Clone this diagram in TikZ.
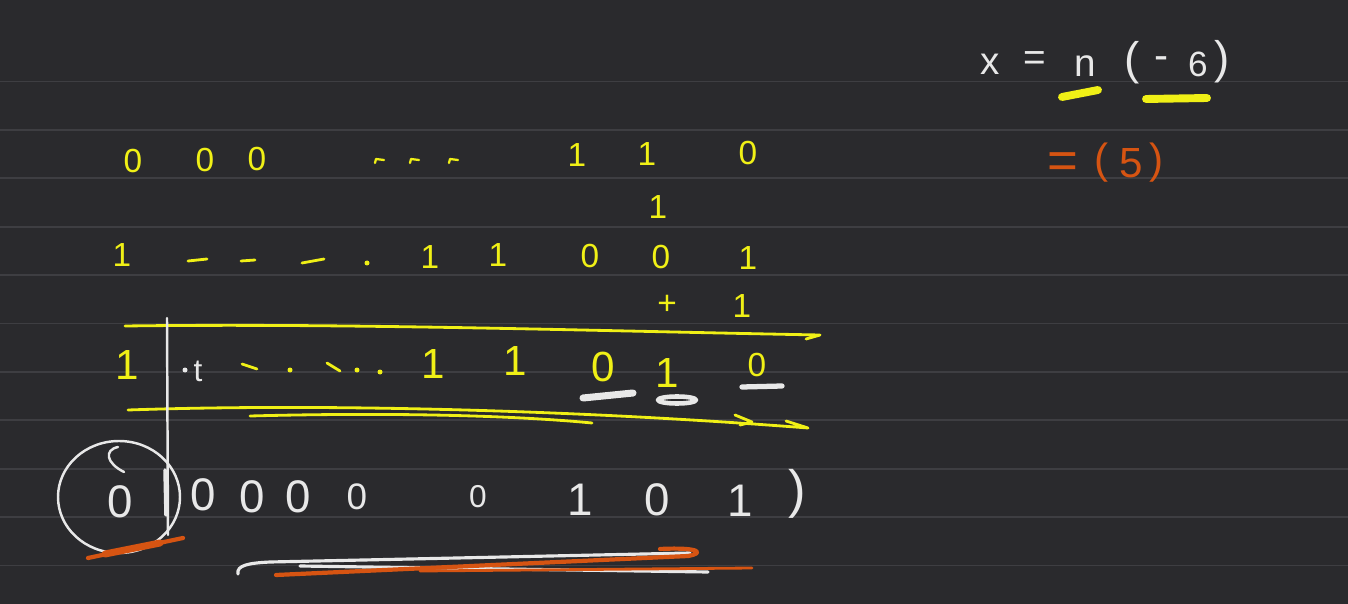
\documentclass[tikz,border=0pt]{standalone}
\usepackage{fontspec}
\setmainfont{Liberation Sans}
\definecolor{pizarra}{RGB}{42,42,45}
\definecolor{renglon}{RGB}{62,62,66}
\definecolor{amarillo}{RGB}{240,240,22}
\definecolor{tiza}{RGB}{232,232,232}
\definecolor{naranja}{RGB}{214,84,18}

\begin{document}
\begin{tikzpicture}[x=0.02cm, y=-0.02cm,
  digA/.style={text=amarillo, inner sep=0pt, font=\fontsize{19}{19}\selectfont},
  digAA/.style={text=amarillo, inner sep=0pt, font=\fontsize{24}{24}\selectfont},
  digB/.style={text=tiza, inner sep=0pt, font=\fontsize{26}{26}\selectfont},
  digN/.style={text=naranja, inner sep=0pt, font=\fontsize{24}{24}\selectfont},
  trazoA/.style={draw=amarillo, line width=1.6pt, line cap=round, line join=round},
  trazoB/.style={draw=tiza, line width=1.4pt, line cap=round, line join=round},
  trazoN/.style={draw=naranja, line width=2.4pt, line cap=round, line join=round}]

  % Pizarra y renglones
  \useasboundingbox (0,0) rectangle (1348,604);
  \fill[pizarra] (0,0) rectangle (1348,604);
  \foreach \k in {0,...,10}
    \draw[renglon, line width=1.1pt] (0,{81.5+48.4*\k}) -- (1348,{81.5+48.4*\k});

  % Fila 1: 0 0 0 ... 1 1 0
  \foreach \x/\y/\d in {133/161/0, 205/160/0, 257/159/0, 577/155/1, 647/154/1, 748/153/0}
    \node[digA] (f1-\x) at (\x,\y) {\d};
  \foreach \x in {375,410,449}
    \draw[trazoA, line width=1.3pt] (\x,163) -- (\x+1,159) -- (\x+9,160);
  \node[digA] (acarreo) at (658,207) {1};

  % Fila 2: complemento
  \foreach \x/\y/\d in {122/255/1, 430/257/1, 498/255/1, 590/256/0, 661/257/0, 748/258/1}
    \node[digA] (f2-\x) at (\x,\y) {\d};
  \draw[trazoA] (188,261) -- (207,259);
  \draw[trazoA] (241,261) -- (255,260);
  \draw[trazoA] (302,263) -- (324,259);
  \fill[amarillo] (367,263) circle (2.5);

  % Fila 3: + 1
  \node[digA] (mas) at (667,305) {+};
  \node[digA] (uno) at (742,306) {1};
  \draw[trazoA] (125,326) .. controls (350,323) and (600,331) .. (820,335) -- (806,339);

  % Fila 4: resultado
  \foreach \x/\y/\d in {127/365/1, 433/364/1, 515/361/1, 603/367/0, 667/373/1}
    \node[digAA] (f4-\x) at (\x,\y) {\d};
  \node[digA] (f4-757) at (757,365) {0};
  \fill[tiza] (185,370) circle (2.5);
  \node[text=tiza, inner sep=0pt, font=\fontsize{18}{18}\selectfont] (marca) at (198,371) {t};
  \draw[trazoA] (242,364) -- (257,369);
  \fill[amarillo] (290,370) circle (2.5);
  \draw[trazoA] (327,363) -- (340,371);
  \fill[amarillo] (357,370) circle (2.5);
  \fill[amarillo] (380,372) circle (2.5);

  % Subrayados blancos
  \draw[trazoB, line width=4pt] (583,398) -- (633,393);
  \draw[trazoB, line width=2.6pt] (677,400) ellipse [x radius=19, y radius=3.5];
  \draw[trazoB, line width=3pt] (742,387) -- (782,386);

  % Doble raya amarilla
  \draw[trazoA] (128,410) .. controls (300,404) and (550,408) .. (808,428) -- (786,421);
  \draw[trazoA] (250,416) .. controls (400,412) and (520,416) .. (592,423);
  \draw[trazoA] (735,415) -- (752,422) -- (740,425);

  % Linea vertical blanca
  \draw[trazoB] (167,318) -- (168,535);
  \draw[trazoB, line width=2pt] (165,470) -- (166,515);

  % Fila 5: 0 | 0000 0 ... 0 1 0 1 )
  \draw[trazoB] (119,497) ellipse [x radius=61, y radius=56];
  \draw[trazoB] (118,447) .. controls (104,450) and (106,463) .. (124,472);
  \node[digB] (signo) at (120,502) {0};
  \foreach \x/\y/\d in {203/495/0, 252/497/0, 298/497/0, 580/500/1, 657/500/0, 740/501/1}
    \node[digB] (f5-\x) at (\x,\y) {\d};
  \node[digB, font=\fontsize{21}{21}\selectfont] (f5-357) at (357,497) {0};
  \node[digB, font=\fontsize{18}{18}\selectfont] (f5-478) at (478,497) {0};
  \node[digB, font=\fontsize{30}{30}\selectfont] (cierre) at (797,494) {)};

  % Rayas naranjas y blancas abajo
  \draw[trazoN] (88,558) -- (183,538);
  \draw[trazoN, line width=4pt] (105,554) -- (160,543);
  \draw[trazoB, line width=1.8pt] (238,574) .. controls (236,565) and (250,563) .. (270,562) -- (690,553);
  \draw[trazoB, line width=1.8pt] (300,566) -- (708,572);
  \draw[trazoN] (276,575) -- (688,556) .. controls (705,553) and (700,547) .. (660,549);
  \draw[trazoN, line width=1.6pt] (420,571) -- (752,568);

  % Arriba a la derecha
  \node[digB, font=\fontsize{22}{22}\selectfont] (equis) at (990,64) {x};
  \node[digB, font=\fontsize{22}{22}\selectfont] (igual) at (1035,61) {=};
  \node[digB, font=\fontsize{22}{22}\selectfont] (tilde) at (1085,66) {n};
  \node[digB, font=\fontsize{26}{26}\selectfont] (abre) at (1132,63) {(};
  \node[digB, font=\fontsize{24}{24}\selectfont] (menos) at (1162,63) {-};
  \node[digB, font=\fontsize{20}{20}\selectfont] (seis) at (1198,64) {6};
  \node[digB, font=\fontsize{26}{26}\selectfont] (cierra) at (1222,62) {)};
  \draw[trazoA, line width=4.5pt] (1062,97) -- (1098,90);
  \draw[trazoA, line width=4.5pt] (1146,99) -- (1207,98);

  \node[digN, font=\fontsize{30}{30}\selectfont] (igual2) at (1063,166) {=};
  \node[digN] (abre2) at (1102,163) {(};
  \node[digN] (cinco) at (1131,163) {5};
  \node[digN] (cierra2) at (1157,163) {)};
\end{tikzpicture}
\end{document}
